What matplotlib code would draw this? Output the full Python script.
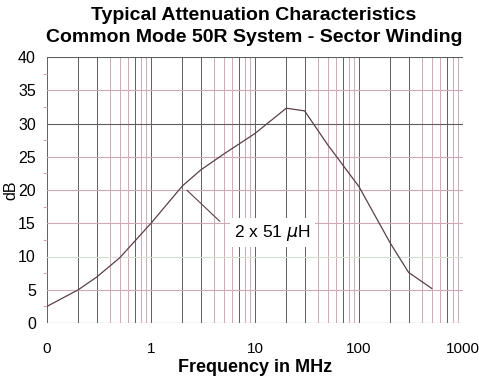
import numpy as np
import matplotlib.pyplot as plt
from matplotlib.ticker import FixedLocator, MultipleLocator

plt.rcParams['font.family'] = ['Liberation Sans', 'DejaVu Sans']

# Attenuation curve
freq_mhz = [0.1, 0.2, 0.3, 0.5, 1, 2, 3, 5, 10, 20, 30, 50, 100, 200, 300, 500]
atten_db = [2.5, 5.0, 6.9, 9.8, 15.0, 20.6, 23.0, 25.4, 28.5, 32.3, 31.9, 26.8, 20.5, 12.0, 7.6, 5.2]

x_ticks = [0.1, 1, 10, 100, 1000]
x_tick_labels = ['0', '1', '10', '100', '1000']
y_ticks = [0, 5, 10, 15, 20, 25, 30, 35, 40]

dark = '#5e5e5e'
pink = '#cfaab4'

fig = plt.figure(figsize=(4.79, 3.77), dpi=100)
ax = fig.add_axes([47/479, 1-323/377, 416/479, 266/377])

ax.set_xscale('log')
ax.set_xlim(0.1, 1000)
ax.set_ylim(0, 40)

# vertical grid: decades dark, in-between lines pink
for dec in [0.1, 1, 10, 100]:
    for m in range(1, 10):
        f = dec * m
        c = dark if m in (1, 2, 3, 7) else pink
        ax.axvline(f, color=c, lw=0.7, zorder=1)
ax.axvline(1000, color=dark, lw=0.7, zorder=1)

# horizontal grid
for y in y_ticks:
    if y in (0, 30, 40):
        c = dark
    elif y == 10:
        c = '#d2dfd2'
    else:
        c = pink
    ax.axhline(y, color=c, lw=0.8, zorder=1)

ax.plot(freq_mhz, atten_db, color='#5a4048', lw=0.9, zorder=3)

# label with leader line
ax.annotate('', xy=(2.12, 20.25), xytext=(4.8, 15.0),
            arrowprops=dict(arrowstyle='-', color='#5a4048', lw=0.8), zorder=3)
ax.text(6.3, 13.6, r'2 x 51 $\mu$H', fontsize=12.5, va='center', ha='left',
        bbox=dict(facecolor='white', edgecolor='none', pad=3), zorder=4)

for s in ax.spines.values():
    s.set_visible(False)

ax.xaxis.set_major_locator(FixedLocator(x_ticks))
ax.set_xticklabels(x_tick_labels)
ax.xaxis.set_minor_locator(FixedLocator([]))
ax.tick_params(axis='x', which='both', length=0, pad=14, labelsize=11)

ax.set_yticks(y_ticks)
ax.yaxis.set_minor_locator(MultipleLocator(2.5))
ax.tick_params(axis='y', which='major', length=0, pad=8, labelsize=11.5)
ax.tick_params(axis='y', which='minor', length=3, color=pink, width=0.8)

ax.set_ylabel('dB', fontsize=11.5, labelpad=0)
ax.set_xlabel('Frequency in MHz', fontsize=13, fontweight='bold', labelpad=2)

fig.text(254/479, 1-15/377, 'Typical Attenuation Characteristics',
         ha='center', va='center', fontsize=14, fontweight='bold')
fig.text(254/479, 1-38/377, 'Common Mode 50R System - Sector Winding',
         ha='center', va='center', fontsize=14, fontweight='bold')

fig.savefig('out.png', dpi=100)
